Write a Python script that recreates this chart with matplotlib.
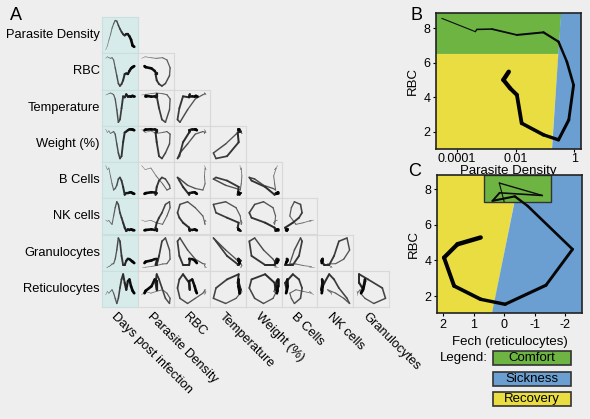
import numpy as np
import matplotlib.pyplot as plt
from matplotlib.collections import LineCollection
from matplotlib.patches import Rectangle, Polygon

plt.rcParams['font.family'] = ['Liberation Sans', 'DejaVu Sans']
plt.rcParams['axes.unicode_minus'] = False

W, H = 590, 419
bg = '#eeeeee'
teal = '#d6ebea'
green = '#6db443'
blue = '#6b9fd2'
yellow = '#e9dd42'

# ---- panel A: time courses (relative level, 0-100)
row_names = ['Parasite Density', 'RBC', 'Temperature', 'Weight (%)',
             'B Cells', 'NK cells', 'Granulocytes', 'Reticulocytes']
col_names = ['Days post infection', 'Parasite Density', 'RBC', 'Temperature',
             'Weight (%)', 'B Cells', 'NK cells', 'Granulocytes']
days = [0, 1, 2, 3, 4, 5, 6, 7, 8, 9, 10, 11, 12, 13, 14, 15, 16, 17, 18]
parasite = [3, 15, 35, 53, 75, 90, 101, 99, 85, 73, 63, 55, 51, 55, 55, 48, 37, 17, 13]
rbc = [95, 100, 97, 95, 97, 90, 65, 40, 15, 7, 13, 25, 45, 47, 45, 55, 63, 67, 70]
temperature = [97, 99, 101, 103, 101, 98, 85, 53, 15, 23, 57, 93, 90, 99, 92, 93, 92, 95, 95]
weight = [105, 95, 100, 92, 95, 98, 90, 60, 32, 15, 22, 65, 95, 98, 102, 105, 105, 104, 102]
b_cells = [103, 90, 95, 70, 45, 25, 30, 40, 60, 65, 55, 35, 10, 15, 15, 17, 18, 15, 13]
nk_cells = [43, 39, 42, 35, 30, 55, 80, 98, 90, 65, 50, 35, 20, 10, 15, 13, 15, 13, 12]
granulocytes = [10, 10, 12, 15, 20, 21, 35, 63, 100, 90, 45, 17, 17, 30, 36, 35, 31, 27, 23]
reticulocytes = [40, 50, 45, 50, 55, 45, 30, 15, 30, 60, 85, 100, 75, 55, 80, 85, 65, 52, 45]

# ---- panel B: RBC vs parasite density
pd_b = [3.0e-5, 4.2e-4, 4.7e-4, 1.55e-3, 0.011, 0.089, 0.29, 0.56, 0.95,
        0.65, 0.29, 0.089, 0.016, 0.011, 0.0065, 0.0038, 0.0058]
rbc_b = [8.56, 7.79, 7.92, 7.94, 7.6, 7.75, 7.21, 6.05, 4.7,
         2.68, 1.53, 1.82, 2.49, 4.13, 4.51, 5.0, 5.47]
b_comfort_rbc = 6.5
b_edge_pd = [0.17, 0.29, 0.36]   # sickness edge at bottom / comfort line / top

# ---- panel C: RBC vs Fech (reticulocytes)
fech_c = [0.0, 0.16, -1.25, 0.15, 0.38, -0.35, -0.77, -2.24, -1.37,
          -0.03, 0.77, 1.64, 1.97, 1.53, 0.77]
rbc_c = [7.3, 8.35, 7.65, 7.8, 7.35, 7.6, 7.06, 4.63, 2.61,
         1.54, 1.82, 2.57, 4.16, 4.91, 5.29]
c_edge_fech = [0.39, -0.51]   # sickness edge at bottom / top
c_comfort = [0.66, -1.54, 7.27]

legend_names = ['Comfort', 'Sickness', 'Recovery']
legend_cols = [green, blue, yellow]


def trail(ax, x, y, w0, w1, g0=0.5):
    pts = np.column_stack([x, y])
    segs = np.stack([pts[:-1], pts[1:]], axis=1)
    f = np.linspace(0, 1, len(segs))
    lw = w0 + (w1 - w0) * f
    cols = [(g0 * (1 - t),) * 3 for t in f]
    ax.add_collection(LineCollection(segs, linewidths=lw, colors=cols,
                                     capstyle='round', joinstyle='round'))


def px_axes(x, y, w, h):
    return fig.add_axes([x / W, 1 - (y + h) / H, w / W, h / H])


def norm(v):
    v = np.asarray(v, float)
    return (v - v.min()) / (v.max() - v.min())


fig = plt.figure(figsize=(W / 100, H / 100), dpi=100, facecolor=bg)

ov = fig.add_axes([0, 0, 1, 1])
ov.set_xlim(0, W)
ov.set_ylim(H, 0)
ov.axis('off')

series = [parasite, rbc, temperature, weight, b_cells, nk_cells, granulocytes, reticulocytes]
x0, y0, cw, ch = 102, 17, 35.9, 36.25
for i in range(8):
    ov.text(100, y0 + ch * (i + 0.5), row_names[i], ha='right', va='center', fontsize=9.3)
    for j in range(i + 1):
        ax = px_axes(x0 + j * cw, y0 + i * ch, cw, ch)
        ax.set_xticks([])
        ax.set_yticks([])
        for s in ax.spines.values():
            s.set_color('#d9d9d9')
            s.set_linewidth(0.8)
        if j == 0:
            ax.set_facecolor(teal)
            for s in ax.spines.values():
                s.set_color('#c9e0df')
            xs = norm(days)
        else:
            ax.set_facecolor(bg)
            xs = norm(series[j - 1])
        trail(ax, xs, norm(series[i]), 0.4, 2.0)
        ax.set_xlim(-0.13, 1.13)
        ax.set_ylim(-0.12, 1.12)

for j in range(8):
    ov.text(x0 + cw * (j + 0.5) - 2, 311, col_names[j], rotation=-45,
            rotation_mode='anchor', ha='left', va='top', fontsize=9.3)

fig.text(10 / W, 1 - 16 / H, 'A', fontsize=13, va='center')
fig.text(410 / W, 1 - 15 / H, 'B', fontsize=13, va='center')
fig.text(408 / W, 1 - 172 / H, 'C', fontsize=13, va='center')

# panel B
axb = px_axes(436, 13, 145, 136)
axb.set_xscale('log')
xl = (1.9e-5, 1.7)
yl = (1.0, 8.87)
axb.set_xlim(xl)
axb.set_ylim(yl)
axb.add_patch(Polygon([(xl[0], b_comfort_rbc), (b_edge_pd[1], b_comfort_rbc), (b_edge_pd[2], yl[1]), (xl[0], yl[1])],
                      facecolor=green, edgecolor='none'))
axb.add_patch(Polygon([(xl[0], yl[0]), (b_edge_pd[0], yl[0]), (b_edge_pd[1], b_comfort_rbc), (xl[0], b_comfort_rbc)],
                      facecolor=yellow, edgecolor='none'))
axb.add_patch(Polygon([(b_edge_pd[0], yl[0]), (xl[1], yl[0]), (xl[1], yl[1]), (b_edge_pd[2], yl[1])],
                      facecolor=blue, edgecolor='none'))
trail(axb, pd_b, rbc_b, 0.8, 3.2, g0=0.05)
axb.set_xticks([1e-4, 1e-2, 1])
axb.set_xticklabels(['0.0001', '0.01', '1'])
axb.minorticks_off()
axb.set_yticks([2, 4, 6, 8])
axb.set_xlabel('Parasite Density', fontsize=9.5, labelpad=0)
axb.set_ylabel('RBC', fontsize=9.5, labelpad=3)

# panel C
axc = px_axes(437, 175, 145, 138)
xl = (2.2, -2.55)
yl = (1.05, 8.8)
axc.set_xlim(xl)
axc.set_ylim(yl)
axc.add_patch(Polygon([(xl[0], yl[0]), (c_edge_fech[0], yl[0]), (c_edge_fech[1], yl[1]), (xl[0], yl[1])],
                      facecolor=yellow, edgecolor='none'))
axc.add_patch(Polygon([(c_edge_fech[0], yl[0]), (xl[1], yl[0]), (xl[1], yl[1]), (c_edge_fech[1], yl[1])],
                      facecolor=blue, edgecolor='none'))
axc.add_patch(Rectangle((c_comfort[1], c_comfort[2]), c_comfort[0] - c_comfort[1], yl[1] - c_comfort[2],
                        facecolor=green, edgecolor='#333333', lw=1))
trail(axc, fech_c, rbc_c, 0.8, 3.2, g0=0.05)
axc.set_xticks([2, 1, 0, -1, -2])
axc.set_yticks([2, 4, 6, 8])
axc.set_xlabel('Fech (reticulocytes)', fontsize=9.5, labelpad=4)
axc.set_ylabel('RBC', fontsize=9.5, labelpad=3)

for ax in (axb, axc):
    for s in ax.spines.values():
        s.set_linewidth(1.2)
        s.set_color('#222222')
    ax.tick_params(labelsize=9, length=2, pad=2)
axb.tick_params(axis='x', pad=1)

# legend
ov.text(440, 358, 'Legend:', ha='left', va='center', fontsize=9.5)
for k in range(3):
    yy = 351 + k * 20.5
    ov.add_patch(Rectangle((493, yy), 78, 14, facecolor=legend_cols[k], edgecolor='#333333', lw=1.2))
    ov.text(532, yy + 7, legend_names[k], ha='center', va='center', fontsize=9.5)

fig.savefig('out.png', dpi=100, facecolor=bg)
